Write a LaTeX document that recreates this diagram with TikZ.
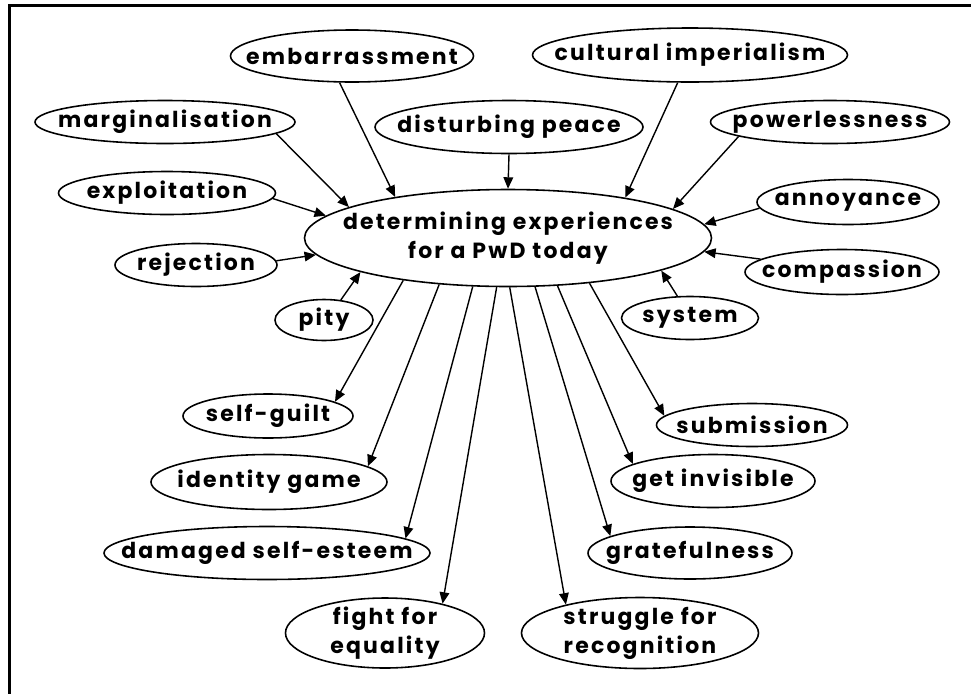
\documentclass[tikz,border=0pt]{standalone}
\usepackage{fontspec}
\setmainfont{Poppins}[LetterSpace=10]
\usetikzlibrary{shapes.geometric,arrows.meta}
\begin{document}
\begin{tikzpicture}[x=0.02cm,y=-0.02cm,
  bubble/.style 2 args={draw, ellipse, line width=0.9pt, inner sep=0pt,
    minimum width={#1*0.02cm}, minimum height={#2*0.02cm}},
  txt/.style={font=\fontsize{12.5}{16.5}\selectfont\bfseries, align=center, inner sep=0pt},
  link/.style={line width=0.8pt, -{Triangle[length=6.5pt,width=5.5pt]}}
]
\useasboundingbox (0,0) rectangle (971,694);
% frame lines
\draw[line width=1.7pt] (8,5.5) -- (971,5.5);
\draw[line width=1.4pt] (9.5,5) -- (9.5,694);

% central idea
\node[bubble={407}{97}, label={[txt]center:determining experiences\\for a PwD today}] (core) at (508,238) {};

% causes
\node[bubble={243}{52}, label={[txt]center:embarrassment}] (emb) at (352,56) {};
\node[bubble={260}{43}, label={[txt]center:marginalisation}] (marg) at (165,122) {};
\node[bubble={217}{43}, label={[txt]center:exploitation}] (expl) at (167,193) {};
\node[bubble={162}{43}, label={[txt]center:rejection}] (rej) at (196,265) {};
\node[bubble={98}{41}, label={[txt]center:pity}] (pity) at (324,320) {};
\node[bubble={268}{53}, label={[txt]center:disturbing peace}] (dist) at (509,127) {};
\node[bubble={315}{54}, label={[txt]center:cultural imperialism}] (cult) at (690,55) {};
\node[bubble={239}{43}, label={[txt]center:powerlessness}] (power) at (830,122) {};
\node[bubble={182}{45}, label={[txt]center:annoyance}] (annoy) at (848,202) {};
\node[bubble={194}{45}, label={[txt]center:compassion}] (comp) at (842,272) {};
\node[bubble={137}{43}, label={[txt]center:system}] (sys) at (690,318) {};

% consequences
\node[bubble={170}{44}, label={[txt]center:self-guilt}] (sg) at (268,416) {};
\node[bubble={236}{55}, label={[txt]center:identity game}] (ig) at (269,482) {};
\node[bubble={326}{53}, label={[txt]center:damaged self-esteem}] (dse) at (267,553) {};
\node[bubble={199}{70}, label={[txt]center:fight for\\equality}] (ffe) at (385,633) {};
\node[bubble={191}{43}, label={[txt]center:submission}] (sub) at (752,425) {};
\node[bubble={204}{53}, label={[txt]center:get invisible}] (gi) at (713,481) {};
\node[bubble={204}{52}, label={[txt]center:gratefulness}] (gr) at (690,553) {};
\node[bubble={237}{71}, label={[txt]center:struggle for\\recognition}] (sfr) at (640,633) {};

% incoming links
\draw[link] (emb.245) -- (core.160);
\draw[link] (marg.-6) -- (core.169);
\draw[link] (expl.-3) -- (core.173);
\draw[link] (rej.3) -- (core.185);
\draw[link] (pity.50) -- (core.193);
\draw[link] (dist.south) -- (core.90);
\draw[link] (cult.246) -- (core.19);
\draw[link] (power.189) -- (core.10);
\draw[link] (annoy.184) -- (core.4);
\draw[link] (comp.171) -- (core.-4);
\draw[link] (sys.120) -- (core.-12);

% outgoing links
\draw[link] (core.202) -- (sg.12);
\draw[link] (core.214) -- (ig.9);
\draw[link] (core.234) -- (dse.6);
\draw[link] (core.257) -- (ffe.27);
\draw[link] (core.272) -- (sfr.159);
\draw[link] (core.299) -- (gr.168);
\draw[link] (core.316) -- (gi.168);
\draw[link] (core.331) -- (sub.174);
\end{tikzpicture}
\end{document}
